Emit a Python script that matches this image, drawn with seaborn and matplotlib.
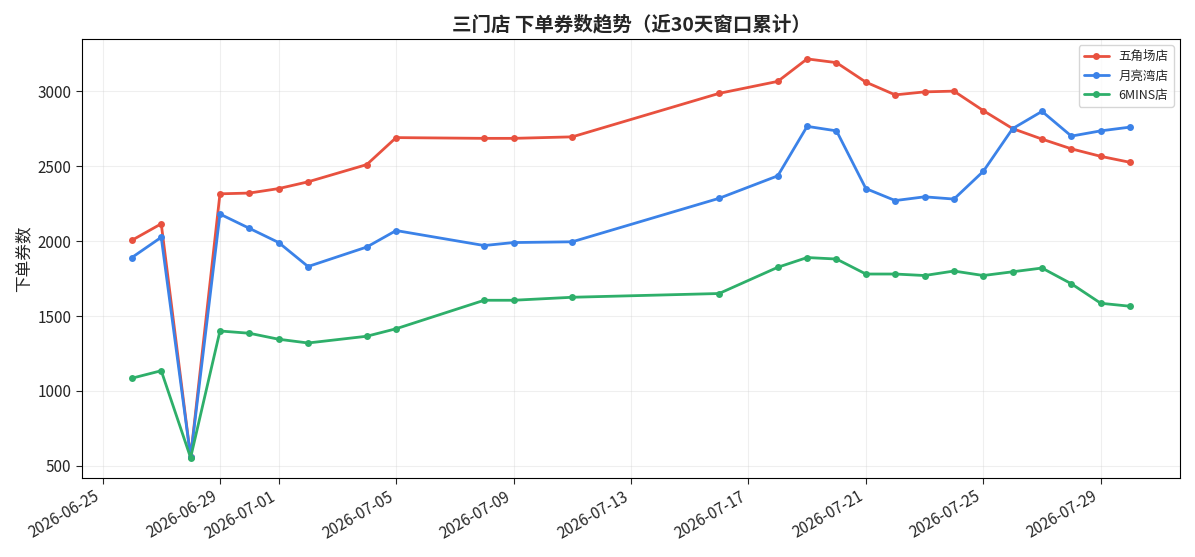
import pandas as pd
import matplotlib
matplotlib.use('Agg')
import matplotlib.pyplot as plt
import matplotlib.dates as mdates
import seaborn as sns

sns.set_style('white')
plt.rcParams['font.family'] = ['Noto Sans CJK SC', 'DejaVu Sans']
plt.rcParams['axes.unicode_minus'] = False

dates = ['2026-06-26', '2026-06-27', '2026-06-28', '2026-06-29', '2026-06-30', '2026-07-01',
         '2026-07-02', '2026-07-04', '2026-07-05', '2026-07-08', '2026-07-09', '2026-07-11',
         '2026-07-16', '2026-07-18', '2026-07-19', '2026-07-20', '2026-07-21', '2026-07-22',
         '2026-07-23', '2026-07-24', '2026-07-25', '2026-07-26', '2026-07-27', '2026-07-28',
         '2026-07-29', '2026-07-30']
wujiaochang = [2005, 2115, 560, 2315, 2320, 2350, 2395, 2510, 2690, 2685, 2685, 2695,
               2985, 3065, 3215, 3190, 3060, 2975, 2995, 3000, 2870, 2750, 2680, 2615, 2565, 2525]
yueliangwan = [1890, 2025, 560, 2180, 2085, 1990, 1830, 1960, 2070, 1970, 1990, 1995,
               2285, 2435, 2765, 2735, 2350, 2270, 2295, 2280, 2465, 2750, 2865, 2700, 2735, 2760]
sixmins = [1085, 1135, 555, 1400, 1385, 1345, 1320, 1365, 1415, 1605, 1605, 1625,
           1650, 1825, 1890, 1880, 1780, 1780, 1770, 1800, 1770, 1795, 1820, 1715, 1585, 1565]

series = {'五角场店': wujiaochang, '月亮湾店': yueliangwan, '6MINS店': sixmins}
colors = ['#e8513f', '#3b82e8', '#2eaf6a']

df = pd.DataFrame({'日期': pd.to_datetime(dates), **series})
long_df = df.melt(id_vars='日期', var_name='门店', value_name='下单券数')

fig, ax = plt.subplots(figsize=(11.95, 5.57), dpi=100)
sns.lineplot(data=long_df, x='日期', y='下单券数', hue='门店', palette=colors,
             marker='o', markersize=5, markeredgewidth=0, linewidth=2, ax=ax)

ax.set_title('三门店 下单券数趋势（近30天窗口累计）', fontsize=14, fontweight='bold')
ax.set_xlabel('')
ax.set_ylabel('下单券数', fontsize=12)
ax.xaxis.set_major_locator(mdates.DayLocator(bymonthday=[1, 5, 9, 13, 17, 21, 25, 29]))
ax.xaxis.set_major_formatter(mdates.DateFormatter('%Y-%m-%d'))
ax.tick_params(labelsize=11, length=4, left=True, bottom=True)
ax.grid(True, alpha=0.3)
for s in ax.spines.values():
    s.set_color('black')
    s.set_linewidth(0.8)
ax.legend(loc='upper right', fontsize=9, title=None)
fig.autofmt_xdate()
plt.tight_layout()
plt.savefig('out.png', dpi=100)
